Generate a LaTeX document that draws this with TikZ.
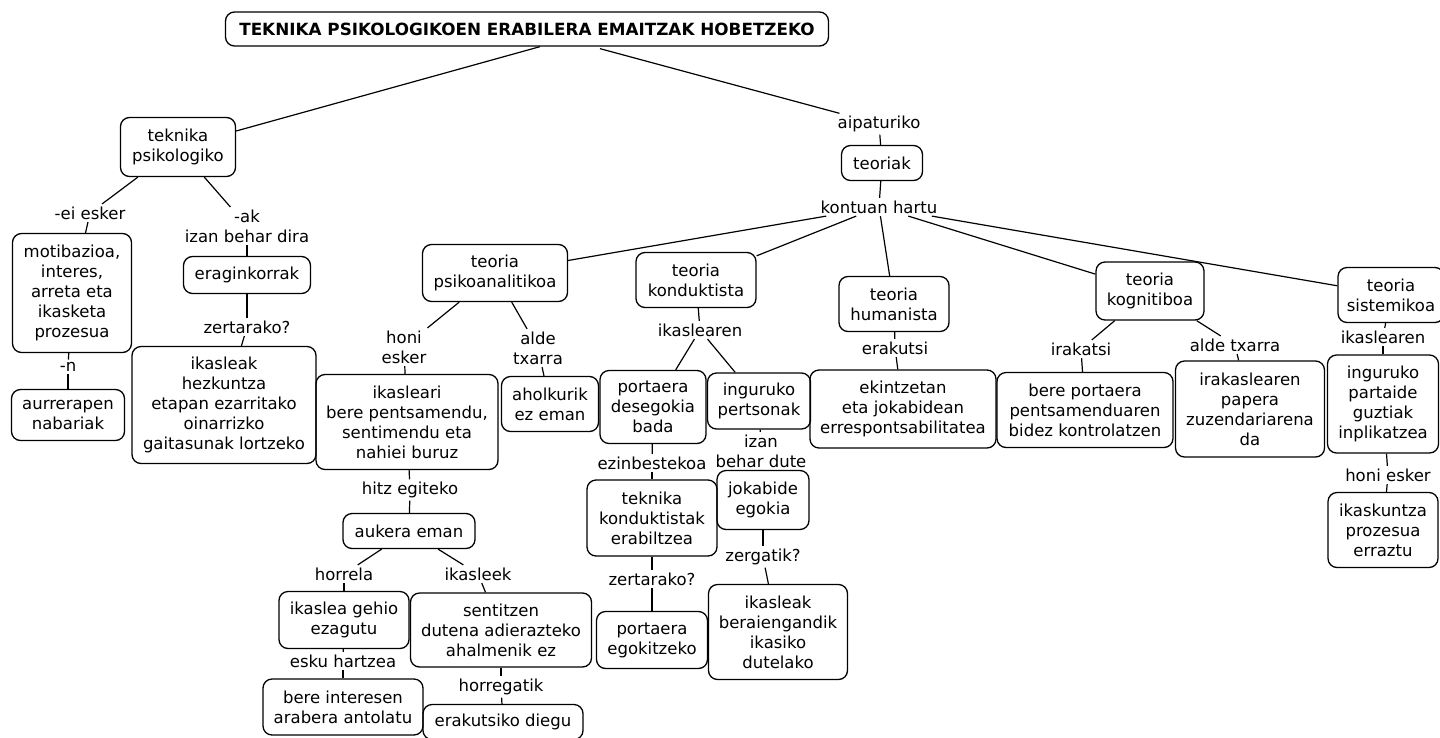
\documentclass[tikz,border=0pt]{standalone}
\usepackage{fontspec}
\setmainfont{DejaVu Sans}
\begin{document}
\begin{tikzpicture}[x=1pt,y=-1pt,
  font=\fontsize{16.5}{20}\selectfont,
  box/.style={draw, line width=1.3pt, rounded corners=9pt, align=center, inner sep=1pt},
  lab/.style={align=center, inner sep=2.5pt},
  conn/.style={line width=1.2pt}]
\useasboundingbox[fill=white] (0,0) rectangle (1440,737);
% title
\node[box, minimum width=603pt, minimum height=34pt, font=\fontsize{16.8}{20}\selectfont\bfseries] (title) at (527,29) {TEKNIKA PSIKOLOGIKOEN ERABILERA EMAITZAK HOBETZEKO};
% left branch
\node[box, minimum width=115pt, minimum height=59pt] (tp) at (178,147) {teknika\\psikologiko};
\node[lab] (eiesker) at (90,213) {-ei esker};
\node[lab] (ak) at (247,226) {-ak\\izan behar dira};
\node[box, minimum width=119pt, minimum height=119pt] (motib) at (72,293) {motibazioa,\\interes,\\arreta eta\\ikasketa\\prozesua};
\node[lab] (n) at (68,367) {-n};
\node[box, minimum width=113pt, minimum height=51pt] (aurr) at (68,415) {aurrerapen\\nabariak};
\node[box, minimum width=127pt, minimum height=37pt] (erag) at (247,275) {eraginkorrak};
\node[lab] (zert1) at (247,327) {zertarako?};
\node[box, minimum width=184pt, minimum height=117pt] (ikhez) at (224,405) {ikasleak\\hezkuntza\\etapan ezarritako\\oinarrizko\\gaitasunak lortzeko};
% right branch top
\node[lab] (aip) at (879,124) {aipaturiko};
\node[box, minimum width=81pt, minimum height=35pt] (teoriak) at (882,163) {teoriak};
\node[lab] (kont) at (879,207) {kontuan hartu};
% psikoanalitikoa
\node[box, minimum width=145pt, minimum height=57pt] (psiko) at (495,273) {teoria\\psikoanalitikoa};
\node[lab] (honi1) at (404,347) {honi\\esker};
\node[lab] (alde1) at (538,348) {alde\\txarra};
\node[box, minimum width=182pt, minimum height=95pt] (ikasleari) at (407,422) {ikasleari\\bere pentsamendu,\\sentimendu eta\\nahiei buruz};
\node[box, minimum width=97pt, minimum height=55pt] (ahol) at (550,404) {aholkurik\\ez eman};
\node[lab] (hitz) at (410,490) {hitz egiteko};
\node[box, minimum width=132pt, minimum height=35pt] (auk) at (409,531) {aukera eman};
\node[lab] (horrela) at (344,574) {horrela};
\node[lab] (ikasleek) at (478,574) {ikasleek};
\node[box, minimum width=130pt, minimum height=57pt] (gehio) at (344,620) {ikaslea gehio\\ezagutu};
\node[box, minimum width=181pt, minimum height=74pt] (sent) at (501,630) {sentitzen\\dutena adierazteko\\ahalmenik ez};
\node[lab] (esku) at (343,661) {esku hartzea};
\node[box, minimum width=160pt, minimum height=56pt] (intere) at (343,707) {bere interesen\\arabera antolatu};
\node[lab] (horreg) at (501,687) {horregatik};
\node[box, minimum width=160pt, minimum height=35pt] (erak) at (503,722) {erakutsiko diegu};
% konduktista
\node[box, minimum width=120pt, minimum height=55pt] (kond) at (696,280) {teoria\\konduktista};
\node[lab] (ikaslearen1) at (700,330) {ikaslearen};
\node[box, minimum width=106pt, minimum height=73pt] (desego) at (653,407) {portaera\\desegokia\\bada};
\node[box, minimum width=103pt, minimum height=56pt] (ingpert) at (759,401) {inguruko\\pertsonak};
\node[lab] (ezinb) at (652,463) {ezinbestekoa};
\node[lab] (izanbd) at (761,451) {izan\\behar dute};
\node[box, minimum width=130pt, minimum height=76pt] (tekkond) at (652,518) {teknika\\konduktistak\\erabiltzea};
\node[box, minimum width=92pt, minimum height=59pt] (jokab) at (763,500) {jokabide\\egokia};
\node[lab] (zert2) at (652,579) {zertarako?};
\node[box, minimum width=111pt, minimum height=57pt] (egokitz) at (652,640) {portaera\\egokitzeko};
\node[lab] (zergatik) at (763,557) {zergatik?};
\node[box, minimum width=139pt, minimum height=95pt] (berai) at (778,632) {ikasleak\\beraiengandik\\ikasiko\\dutelako};
% humanista
\node[box, minimum width=110pt, minimum height=55pt] (human) at (894,304) {teoria\\humanista};
\node[lab] (erakutsi) at (895,348) {erakutsi};
\node[box, minimum width=186pt, minimum height=78pt] (ekintz) at (903,409) {ekintzetan\\eta jokabidean\\errespontsabilitatea};
% kognitiboa
\node[box, minimum width=108pt, minimum height=58pt] (kogn) at (1150,291) {teoria\\kognitiboa};
\node[lab] (irakatsi) at (1081,349) {irakatsi};
\node[lab] (alde2) at (1235,345) {alde txarra};
\node[box, minimum width=176pt, minimum height=75pt] (bereport) at (1085,410) {bere portaera\\pentsamenduaren\\bidez kontrolatzen};
\node[box, minimum width=149pt, minimum height=96pt] (irakas) at (1250,409) {irakaslearen\\papera\\zuzendariarena\\da};
% sistemikoa
\node[box, minimum width=106pt, minimum height=55pt] (sist) at (1391,295) {teoria\\sistemikoa};
\node[lab] (ikaslearen2) at (1383,337) {ikaslearen};
\node[box, minimum width=111pt, minimum height=98pt] (ingpart) at (1383,404) {inguruko\\partaide\\guztiak\\inplikatzea};
\node[lab] (honi2) at (1388,475) {honi esker};
\node[box, minimum width=110pt, minimum height=75pt] (ikask) at (1383,530) {ikaskuntza\\prozesua\\erraztu};
% connectors
\draw[conn] ([xshift=13pt]title.south) -- ([yshift=16pt]tp.east);
\draw[conn] ([xshift=73pt,yshift=-2pt]title.south) -- (aip);
\draw[conn] (aip) -- (teoriak);
\draw[conn] (teoriak) -- (kont);
\draw[conn] (kont) -- (psiko);
\draw[conn] (kont) -- (kond);
\draw[conn] (kont) -- (human);
\draw[conn] (kont) -- (kogn);
\draw[conn] (kont) -- (sist);
\draw[conn] (tp) -- (eiesker);
\draw[conn] (tp) -- (ak);
\draw[conn] (eiesker) -- (motib);
\draw[conn] (motib) -- (n);
\draw[conn] (n) -- (aurr);
\draw[conn] (ak) -- (erag);
\draw[conn] (erag) -- (zert1);
\draw[conn] (zert1) -- (ikhez);
\draw[conn] (psiko) -- (honi1);
\draw[conn] (honi1) -- (ikasleari);
\draw[conn] (psiko) -- (alde1);
\draw[conn] (alde1) -- (ahol);
\draw[conn] (ikasleari) -- (hitz);
\draw[conn] (hitz) -- (auk);
\draw[conn] (auk) -- (horrela);
\draw[conn] (auk) -- (ikasleek);
\draw[conn] (horrela) -- (gehio);
\draw[conn] (ikasleek) -- (sent);
\draw[conn] (gehio) -- (esku);
\draw[conn] (esku) -- (intere);
\draw[conn] (sent) -- (horreg);
\draw[conn] (horreg) -- (erak);
\draw[conn] (kond) -- (ikaslearen1);
\draw[conn] (ikaslearen1) -- (desego);
\draw[conn] (ikaslearen1) -- (ingpert);
\draw[conn] (desego) -- (ezinb);
\draw[conn] (ezinb) -- (tekkond);
\draw[conn] (tekkond) -- (zert2);
\draw[conn] (zert2) -- (egokitz);
\draw[conn] (ingpert) -- (izanbd);
\draw[conn] (izanbd) -- (jokab);
\draw[conn] (jokab) -- (zergatik);
\draw[conn] (zergatik) -- (berai);
\draw[conn] (human) -- (erakutsi);
\draw[conn] (erakutsi) -- (ekintz);
\draw[conn] (kogn) -- (irakatsi);
\draw[conn] (irakatsi) -- (bereport);
\draw[conn] (kogn) -- (alde2);
\draw[conn] (alde2) -- (irakas);
\draw[conn] (sist) -- (ikaslearen2);
\draw[conn] (ikaslearen2) -- (ingpart);
\draw[conn] (ingpart) -- (honi2);
\draw[conn] (honi2) -- (ikask);
\end{tikzpicture}
\end{document}
